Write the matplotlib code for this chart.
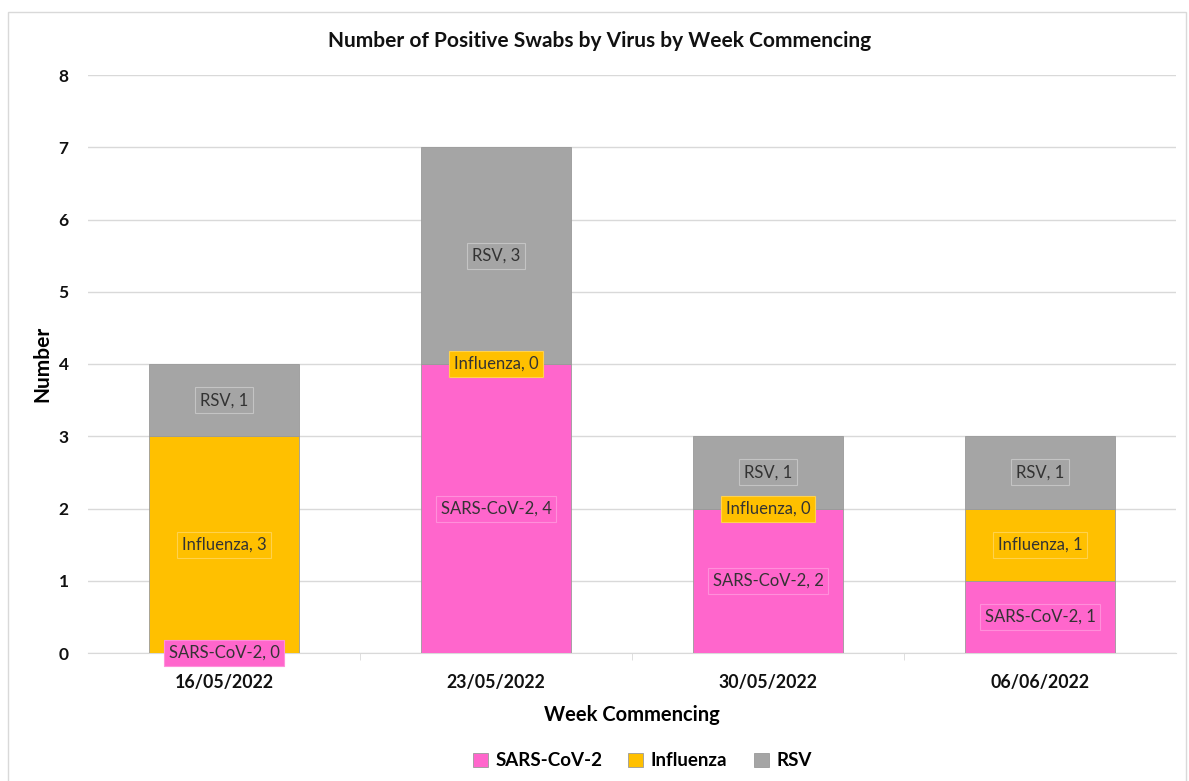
import numpy as np
import matplotlib.pyplot as plt
from matplotlib.patches import Rectangle

plt.rcParams['font.family'] = ['Lato', 'DejaVu Sans']

weeks = ["16/05/2022", "23/05/2022", "30/05/2022", "06/06/2022"]
sars = [0, 4, 2, 1]
flu = [3, 0, 0, 1]
rsv = [1, 3, 1, 1]

series = [("SARS-CoV-2", sars, "#FF66CC", "#FF8FDA"),
          ("Influenza", flu, "#FFC000", "#FFD24D"),
          ("RSV", rsv, "#A5A5A5", "#C4C4C4")]

fig = plt.figure(figsize=(11.89, 7.81), dpi=100)
fig.patches.append(Rectangle((8 / 1189, -0.01), 1178 / 1189, 1 - 12 / 781 + 0.01,
                             transform=fig.transFigure, fill=False,
                             edgecolor="#D9D9D9", linewidth=1.0))
ax = fig.add_axes([88 / 1189, 1 - 653 / 781, 1088 / 1189, 578 / 781])

x = np.arange(len(weeks))
bottom = np.zeros(len(weeks))
for name, vals, col, lab_edge in series:
    vals = np.array(vals, dtype=float)
    ax.bar(x, vals, width=0.555, bottom=bottom, color=col, edgecolor="#9A9A9A",
           linewidth=0.6, label=name, zorder=3)
    for xi, b, v in zip(x, bottom, vals):
        ax.text(xi, b + v / 2, f"{name}, {int(v)}", ha="center", va="center",
                fontsize=12, color="#333333", zorder=5,
                bbox=dict(boxstyle="square,pad=0.3", facecolor=col,
                          edgecolor=lab_edge, linewidth=0.8))
    bottom += vals

ax.set_xlim(-0.5, len(weeks) - 0.5)
ax.set_ylim(0, 8)
ax.set_yticks(range(0, 9))
ax.yaxis.grid(True, color="#D9D9D9", linewidth=1.0, zorder=0)
ax.set_axisbelow(True)
for s in ["top", "right", "left"]:
    ax.spines[s].set_visible(False)
ax.spines["bottom"].set_color("#D9D9D9")
ax.tick_params(axis="y", length=0, pad=14, labelsize=12.5)
ax.set_xticks(x)
ax.set_xticklabels(weeks)
ax.set_xticks(np.arange(0.5, len(weeks) - 0.5), minor=True)
ax.tick_params(axis="x", which="major", length=0, pad=15, labelsize=12.8)
ax.tick_params(axis="x", which="minor", length=5, color="#D9D9D9")
for lab in ax.get_xticklabels() + ax.get_yticklabels():
    lab.set_fontweight("bold")
    lab.set_color("#111111")

ax.set_xlabel("Week Commencing", fontsize=14.5, fontweight="bold", labelpad=10)
ax.set_ylabel("Number", fontsize=15, fontweight="bold", labelpad=4)
fig.text(600 / 1189, 1 - 41 / 781, "Number of Positive Swabs by Virus by Week Commencing",
         ha="center", va="center", fontsize=15, fontweight="bold", color="#111111")

leg = fig.legend(loc="center", bbox_to_anchor=(642 / 1189, 1 - 761 / 781), ncol=3,
                 frameon=False, fontsize=13.5, handlelength=0.8, handleheight=0.8,
                 handletextpad=0.4, columnspacing=1.4)
for t in leg.get_texts():
    t.set_fontweight("bold")

fig.savefig("out.png", dpi=100)
